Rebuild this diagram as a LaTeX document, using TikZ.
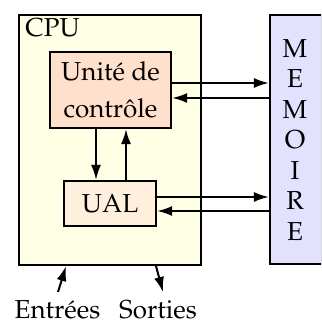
\documentclass[tikz,border=0pt]{standalone}
\usepackage[T1]{fontenc}
\usepackage{mathpazo}
\usetikzlibrary{arrows.meta}
\definecolor{cpuc}{RGB}{255,255,230}
\definecolor{ctrlc}{RGB}{255,224,204}
\definecolor{ualc}{RGB}{255,240,222}
\definecolor{memc}{RGB}{226,226,255}
\begin{document}
\begin{tikzpicture}[x=0.5pt,y=0.5pt,
  every node/.style={font=\fontsize{13}{18.3}\selectfont},
  box/.style={draw, line width=1.1pt, inner sep=0pt},
  arr/.style={line width=1pt, -{Latex[length=7.5pt,width=5pt]}}]
\clip (0,0) rectangle (321,324);
\node[box, fill=cpuc, minimum width=91pt, minimum height=125pt] (cpu) at (110,184) {};
\node[anchor=base west, inner sep=0pt] (cpulabel) at (25,287) {CPU};
\node[box, fill=memc, minimum width=26pt, minimum height=124.5pt] (mem) at (296,184.5) {};
\node[align=center, inner sep=0pt, font=\fontsize{13}{15.25}\selectfont] (memtext) at (295,184) {M\\E\\M\\O\\I\\R\\E};
\node[box, fill=ctrlc, minimum width=60.5pt, minimum height=38pt, align=center] (ctrl) at (110.5,234) {Unité de\\contrôle};
\node[box, fill=ualc, minimum width=46pt, minimum height=22.5pt] (ual) at (110,120.5) {UAL};
\node[anchor=base, inner sep=0pt] (entrees) at (57.5,5) {Entrées};
\node[anchor=base, inner sep=0pt] (sorties) at (158,5) {Sorties};
\coordinate (r241) at (0,241);
\coordinate (r226) at (0,226);
\coordinate (r127) at (0,127);
\coordinate (r113) at (0,113);
\coordinate (c96) at (96,0);
\coordinate (c126) at (126,0);
\coordinate (c66) at (66,0);
\coordinate (c156) at (156,0);
\coordinate (ein) at (58,32);
\coordinate (sout) at (163,32);
\draw[arr] (ctrl.east |- r241) -- (mem.west |- r241);
\draw[arr] (mem.west |- r226) -- (ctrl.east |- r226);
\draw[arr] (ual.east |- r127) -- (mem.west |- r127);
\draw[arr] (mem.west |- r113) -- (ual.east |- r113);
\draw[arr] (ctrl.south -| c96) -- (ual.north -| c96);
\draw[arr] (ual.north -| c126) -- (ctrl.south -| c126);
\draw[arr] (ein) -- (cpu.south -| c66);
\draw[arr] (cpu.south -| c156) -- (sout);
\end{tikzpicture}
\end{document}
